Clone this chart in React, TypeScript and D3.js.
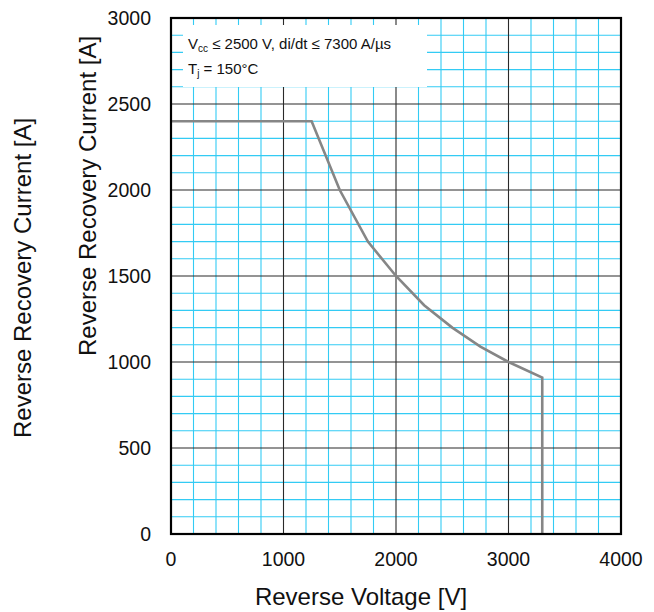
import React, { useRef, useEffect } from 'react';
import * as d3 from 'd3';

// Reverse recovery safe operating area
const voltage = [0, 1250, 1500, 1750, 2000, 2250, 2500, 2750, 3000, 3300, 3300];
const current = [2400, 2400, 2000, 1700, 1500, 1330, 1200, 1090, 1000, 910, 0];

const xTicks = [0, 1000, 2000, 3000, 4000];
const yTicks = [0, 500, 1000, 1500, 2000, 2500, 3000];

const xTitle = 'Reverse Voltage [V]';
const yTitle = 'Reverse Recovery Current [A]';

const App: React.FC = () => {
  const svgRef = useRef<SVGSVGElement>(null);
  const width = 654;
  const height = 612;

  useEffect(() => {
    if (!svgRef.current) return;
    d3.select(svgRef.current).selectAll('*').remove();

    const margin = { top: 18, right: 33, bottom: 78, left: 171 };
    const innerWidth = 621 - margin.left;
    const innerHeight = 534 - margin.top;
    const font = '"Liberation Sans", Arial, sans-serif';

    const svg = d3.select(svgRef.current)
      .attr('width', width)
      .attr('height', height)
      .style('font-family', font)
      .style('background', '#fff');

    const g = svg.append('g')
      .attr('transform', `translate(${margin.left},${margin.top})`);

    const x = d3.scaleLinear().domain([0, 4000]).range([0, innerWidth]);
    const y = d3.scaleLinear().domain([0, 3000]).range([innerHeight, 0]);

    // Minor grid (cyan)
    const xMinor = d3.range(200, 4000, 200).filter(v => v % 1000 !== 0);
    const yMinor = d3.range(100, 3000, 100).filter(v => v % 500 !== 0);
    g.selectAll('.xminor')
      .data(xMinor)
      .join('line')
      .attr('x1', d => x(d)).attr('x2', d => x(d))
      .attr('y1', 0).attr('y2', innerHeight)
      .attr('stroke', '#33cbf4')
      .attr('stroke-width', 1.1);
    g.selectAll('.yminor')
      .data(yMinor)
      .join('line')
      .attr('y1', d => y(d)).attr('y2', d => y(d))
      .attr('x1', 0).attr('x2', innerWidth)
      .attr('stroke', '#33cbf4')
      .attr('stroke-width', 1.1);

    // Major grid (black)
    g.selectAll('.xmajor')
      .data(xTicks.slice(1, -1))
      .join('line')
      .attr('x1', d => x(d)).attr('x2', d => x(d))
      .attr('y1', 0).attr('y2', innerHeight)
      .attr('stroke', '#2a2a2a')
      .attr('stroke-width', 1.1);
    g.selectAll('.ymajor')
      .data(yTicks.slice(1, -1))
      .join('line')
      .attr('y1', d => y(d)).attr('y2', d => y(d))
      .attr('x1', 0).attr('x2', innerWidth)
      .attr('stroke', '#2a2a2a')
      .attr('stroke-width', 1.1);

    // Legend box covering grid
    g.append('rect')
      .attr('x', 12).attr('y', 7)
      .attr('width', 244).attr('height', 62)
      .attr('fill', '#fff');

    const t1 = g.append('text')
      .attr('x', 17).attr('y', 31)
      .style('font-size', '15px')
      .style('fill', '#111');
    t1.append('tspan').text('V');
    t1.append('tspan').attr('dy', 3).style('font-size', '10px').text('cc');
    t1.append('tspan').attr('dy', -3).text(' ≤ 2500 V, di/dt ≤ 7300 A/µs');

    const t2 = g.append('text')
      .attr('x', 17).attr('y', 56)
      .style('font-size', '15px')
      .style('fill', '#111');
    t2.append('tspan').text('T');
    t2.append('tspan').attr('dy', 3).style('font-size', '10px').text('j');
    t2.append('tspan').attr('dy', -3).text(' = 150°C');

    // Curve
    const pts = voltage.map((v, i) => [v, current[i]] as [number, number]);
    g.append('path')
      .datum(pts)
      .attr('d', d3.line<[number, number]>().x(d => x(d[0])).y(d => y(d[1])))
      .attr('fill', 'none')
      .attr('stroke', '#868686')
      .attr('stroke-width', 2.6)
      .attr('stroke-linejoin', 'miter');

    // Frame
    g.append('rect')
      .attr('x', 0).attr('y', 0)
      .attr('width', innerWidth).attr('height', innerHeight)
      .attr('fill', 'none')
      .attr('stroke', '#000')
      .attr('stroke-width', 2.2);

    // Tick labels
    g.selectAll('.xlab')
      .data(xTicks)
      .join('text')
      .attr('x', d => x(d))
      .attr('y', innerHeight + 32)
      .attr('text-anchor', 'middle')
      .style('font-size', '19.5px')
      .style('fill', '#111')
      .text(d => String(d));
    g.selectAll('.ylab')
      .data(yTicks)
      .join('text')
      .attr('x', -20)
      .attr('y', d => y(d) + 7)
      .attr('text-anchor', 'end')
      .style('font-size', '19.5px')
      .style('fill', '#111')
      .text(d => String(d));

    // Axis titles
    svg.append('text')
      .attr('x', 361).attr('y', 605)
      .attr('text-anchor', 'middle')
      .style('font-size', '24px')
      .style('fill', '#111')
      .text(xTitle);
    svg.append('text')
      .attr('transform', 'translate(96,196) rotate(-90)')
      .attr('text-anchor', 'middle')
      .style('font-size', '24px')
      .style('fill', '#111')
      .text(yTitle);
    svg.append('text')
      .attr('transform', 'translate(31,278) rotate(-90)')
      .attr('text-anchor', 'middle')
      .style('font-size', '24px')
      .style('fill', '#111')
      .text(yTitle);
  }, []);

  return (
    <div style={{ position: 'absolute', left: 0, top: 0 }}>
      <svg ref={svgRef} style={{ display: 'block' }} />
    </div>
  );
};

export default App;
